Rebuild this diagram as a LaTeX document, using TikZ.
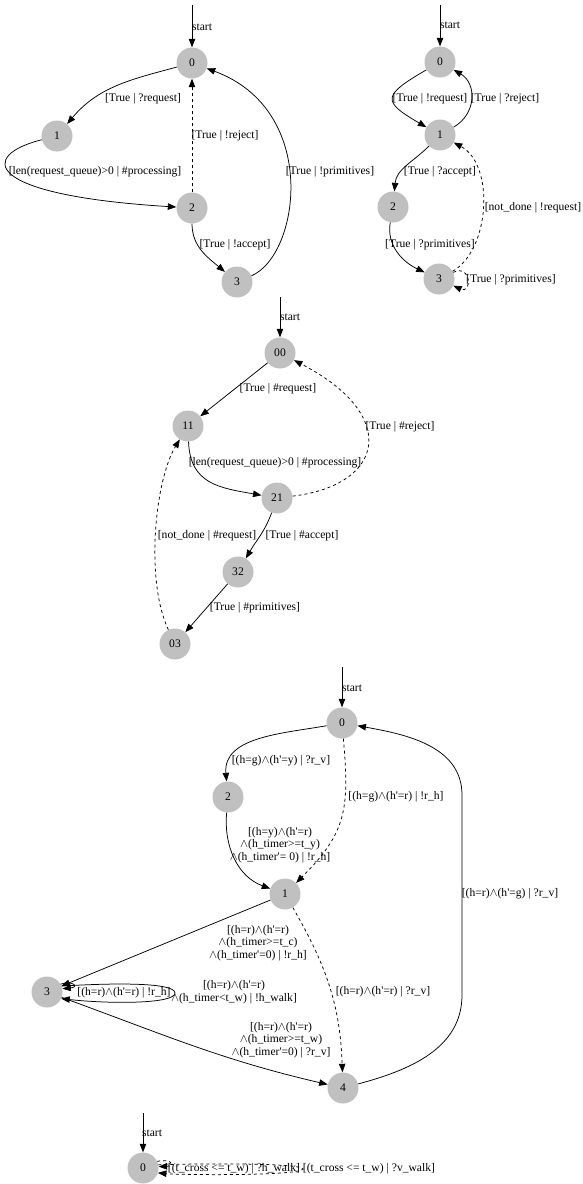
\documentclass[tikz,border=0pt]{standalone}
\usepackage{fontspec}
\setmainfont{Liberation Serif}
\usepackage{tikz}
\usetikzlibrary{arrows.meta}
\definecolor{stateGray}{RGB}{192,192,192}
\newcommand{\andop}{\ensuremath{\wedge}}
\newcommand{\apost}{\textquotesingle}

\begin{document}
\begin{tikzpicture}[x=1pt,y=1pt,
  >={Triangle[length=8.5pt,width=6.5pt]},
  every node/.style={font=\fontsize{11.6}{12.6}\selectfont},
  stateNode/.style={circle,fill=stateGray,minimum size=31pt,inner sep=0pt},
  edgeLabel/.style={inner sep=0pt,align=center},
  trans/.style={line width=0.75pt,->}]
\useasboundingbox (0,0) rectangle (582,-1184);

\node[stateNode] (g1s0) at (192,-63) {0};
\node[stateNode] (g1s1) at (57,-136) {1};
\node[stateNode] (g1s2) at (192,-208) {2};
\node[stateNode] (g1s3) at (237,-282) {3};
\coordinate (g1in) at (192,-5);
\draw[trans] (g1in) -- (g1s0);
\node[edgeLabel] (g1st) at (202,-27) {start};
\draw[trans] (g1s0) to[out=195,in=50] (g1s1);
\draw[trans] (g1s1) .. controls (-20,-155) and (-20,-195) .. (g1s2);
\draw[trans,dashed] (g1s2) -- (g1s0);
\draw[trans] (g1s2) to[out=-90,in=140] (g1s3);
\draw[trans] (g1s3) .. controls (300,-255) and (320,-110) .. (g1s0);
\node[edgeLabel] (g1l01) at (143,-99) {[True | ?request]};
\node[edgeLabel] (g1l12) at (95,-172) {[len(request\_queue)>0 | \#processing]};
\node[edgeLabel] (g1l20) at (225,-136) {[True | !reject]};
\node[edgeLabel] (g1l23) at (235,-245) {[True | !accept]};
\node[edgeLabel] (g1l30) at (330,-172) {[True | !primitives]};

\node[stateNode] (g2s0) at (440,-62) {0};
\node[stateNode] (g2s1) at (440,-135) {1};
\node[stateNode] (g2s2) at (393,-207) {2};
\node[stateNode] (g2s3) at (439,-279) {3};
\coordinate (g2in) at (440,-5);
\draw[trans] (g2in) -- (g2s0);
\node[edgeLabel] (g2st) at (450,-25) {start};
\draw[trans] (g2s0) to[out=210,in=150,looseness=2.3] (g2s1);
\draw[trans] (g2s1) to[out=30,in=-30,looseness=1.2] (g2s0);
\draw[trans] (g2s1) to[out=225,in=85] (g2s2);
\draw[trans] (g2s2) to[out=-100,in=155] (g2s3);
\draw[trans,dashed] (g2s3) .. controls (490,-250) and (495,-165) .. (g2s1);
\draw[trans,dashed] (g2s3) to[out=25,in=-25,looseness=4] (g2s3);
\node[edgeLabel] (g2l01) at (430,-99) {[True | !request]};
\node[edgeLabel] (g2l10) at (505,-99) {[True | ?reject]};
\node[edgeLabel] (g2l12) at (440,-172) {[True | ?accept]};
\node[edgeLabel] (g2l23) at (430,-245) {[True | ?primitives]};
\node[edgeLabel] (g2l31) at (533,-208) {[not\_done | !request]};
\node[edgeLabel] (g2l33) at (511,-280) {[True | ?primitives]};

\node[stateNode] (g3s00) at (280,-353) {00};
\node[stateNode] (g3s11) at (188,-426) {11};
\node[stateNode] (g3s21) at (277,-498) {21};
\node[stateNode] (g3s32) at (238,-572) {32};
\node[stateNode] (g3s03) at (175,-644) {03};
\coordinate (g3in) at (280,-297);
\draw[trans] (g3in) -- (g3s00);
\node[edgeLabel] (g3st) at (290,-317) {start};
\draw[trans] (g3s00) -- (g3s11);
\draw[trans] (g3s11) to[out=-88,in=170,looseness=1.2] (g3s21);
\draw[trans,dashed] (g3s21) .. controls (385,-485) and (400,-415) .. (g3s00);
\draw[trans] (g3s21) to[out=-110,in=60] (g3s32);
\draw[trans] (g3s32) -- (g3s03);
\draw[trans,dashed] (g3s03) .. controls (145,-580) and (155,-480) .. (g3s11);
\node[edgeLabel] (g3l0011) at (278,-389) {[True | \#request]};
\node[edgeLabel] (g3l1121) at (275,-463) {[len(request\_queue)>0 | \#processing]};
\node[edgeLabel] (g3l2100) at (400,-427) {[True | \#reject]};
\node[edgeLabel] (g3l2132) at (302,-536) {[True | \#accept]};
\node[edgeLabel] (g3l3203) at (255,-608) {[True | \#primitives]};
\node[edgeLabel] (g3l0311) at (207,-536) {[not\_done | \#request]};

\node[stateNode] (g4s0) at (342,-723) {0};
\node[stateNode] (g4s2) at (228,-797) {2};
\node[stateNode] (g4s1) at (285,-894) {1};
\node[stateNode] (g4s3) at (47,-992) {3};
\node[stateNode] (g4s4) at (343,-1088) {4};
\coordinate (g4in) at (342,-667);
\draw[trans] (g4in) -- (g4s0);
\node[edgeLabel] (g4st) at (352,-688) {start};
\draw[trans] (g4s0) to[out=190,in=95] (g4s2);
\draw[trans,dashed] (g4s0) to[out=-85,in=45,looseness=1.2] (g4s1);
\draw[trans] (g4s2) to[out=-95,in=160] (g4s1);
\draw[trans] (g4s1) -- (g4s3);
\draw[trans] (g4s3) to[out=-20,in=167] (g4s4);
\draw[trans,dashed] (g4s1) to[out=-60,in=92] (g4s4);
\coordinate (g4r1) at (462,-995);
\coordinate (g4r2) at (462,-795);
\draw[trans] (g4s4) to[out=15,in=-90] (g4r1) -- (g4r2) to[out=90,in=-10] (g4s0);
\draw[trans] (g4s3.30) .. controls (72,-980) and (80,-987) .. (g4s3.12);
\draw[trans] (g4s3.22) .. controls (110,-983) and (175,-982) .. (175,-993)
  .. controls (175,-1004) and (110,-1004) .. (g4s3.-25);
\node[edgeLabel] (g4l02) at (281,-761) {[(h=g)\andop(h\apost=y) | ?r\_v]};
\node[edgeLabel] (g4l01) at (396,-797) {[(h=g)\andop(h\apost=r) | !r\_h]};
\node[edgeLabel] (g4l21) at (280,-845) {[(h=y)\andop(h\apost=r)\\\andop(h\_timer>=t\_y)\\\andop(h\_timer\apost= 0) | !r\_h]};
\node[edgeLabel] (g4l13) at (258,-943) {[(h=r)\andop(h\apost=r)\\\andop(h\_timer>=t\_c)\\\andop(h\_timer\apost=0) | !r\_h]};
\node[edgeLabel] (g4l33a) at (124,-993) {[(h=r)\andop(h\apost=r) | !r\_h]};
\node[edgeLabel] (g4l33b) at (234,-992) {[(h=r)\andop(h\apost=r)\\\andop(h\_timer<t\_w) | !h\_walk]};
\node[edgeLabel] (g4l34) at (281,-1040) {[(h=r)\andop(h\apost=r)\\\andop(h\_timer>=t\_w)\\\andop(h\_timer\apost=0) | ?r\_v]};
\node[edgeLabel] (g4l14) at (383,-992) {[(h=r)\andop(h\apost=r) | ?r\_v]};
\node[edgeLabel] (g4l40) at (510,-894) {[(h=r)\andop(h\apost=g) | ?r\_v]};

\node[stateNode] (g5s0) at (143,-1168) {0};
\coordinate (g5in) at (143,-1113);
\draw[trans] (g5in) -- (g5s0);
\node[edgeLabel] (g5st) at (152,-1133) {start};
\draw[trans,dashed] (g5s0.25) .. controls (172,-1158) and (175,-1166) .. (g5s0.5);
\draw[trans,dashed] (g5s0.12) .. controls (180,-1164) and (300,-1162) .. (303,-1169)
  .. controls (300,-1176) and (180,-1175) .. (g5s0.-18);
\node[edgeLabel] (g5l00a) at (234,-1169) {[(t\_cross <= t\_w) | ?h\_walk]};
\node[edgeLabel] (g5l00b) at (369,-1169) {[(t\_cross <= t\_w) | ?v\_walk]};
\end{tikzpicture}
\end{document}
